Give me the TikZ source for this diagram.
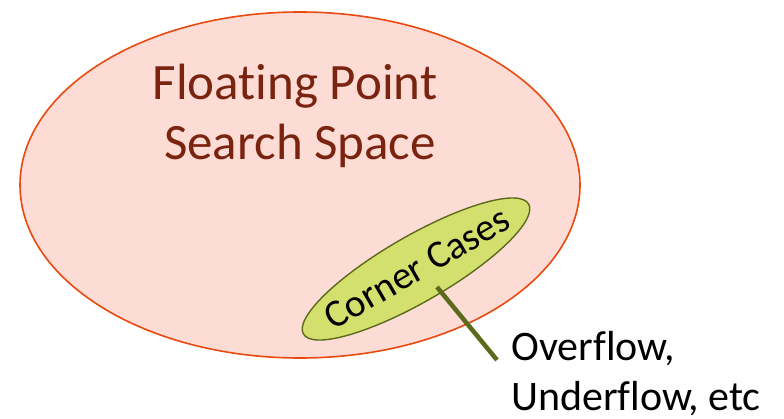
\documentclass[tikz,border=0pt]{standalone}
\usepackage{fontspec}
\setmainfont[Ligatures=CommonOff]{Carlito}
\usetikzlibrary{shapes.geometric}
\definecolor{spacefill}{HTML}{FCDCD5}
\definecolor{spaceline}{HTML}{EA4A10}
\definecolor{spacetext}{HTML}{7A2410}
\definecolor{cornerfill}{HTML}{D4E06E}
\definecolor{cornerline}{HTML}{5C6A1C}
\tikzset{
  spacebox/.style={ellipse, draw=spaceline, fill=spacefill, line width=1.6pt, inner sep=0pt},
  cornerbox/.style={ellipse, draw=cornerline, fill=cornerfill, line width=1.4pt, inner sep=0pt},
  spacetitle/.style={text=spacetext, font=\fontsize{51}{60}\selectfont, anchor=base, inner sep=0pt},
  exampletext/.style={font=\fontsize{42}{50}\selectfont, anchor=base west, inner sep=0pt},
  leader/.style={draw=cornerline, line width=4.5pt},
}
\begin{document}
\begin{tikzpicture}[x=1pt, y=-1pt]
  \useasboundingbox (0,0) rectangle (784,419);
  % search space
  \node[spacebox, minimum width=560pt, minimum height=346pt] (space) at (300,185) {};
  \node[spacetitle] (title1) at (295,100) {Floating Point};
  \node[spacetitle] (title2) at (300,160) {Search Space};
  % corner cases
  \node[cornerbox, minimum width=260pt, minimum height=66pt, rotate=30] (corner) at (416,269) {};
  \node[font=\fontsize{39}{44}\selectfont, rotate=30, inner sep=0pt] (cornerlabel) at (417,268) {Corner Cases};
  % leader line to the examples
  \coordinate (tip) at (437,287);
  \coordinate (foot) at (497,360);
  \draw[leader] (tip) -- (foot);
  \node[exampletext] (example1) at (511,360) {Overflow,};
  \node[exampletext] (example2) at (511,410) {Underflow, etc};
\end{tikzpicture}
\end{document}
